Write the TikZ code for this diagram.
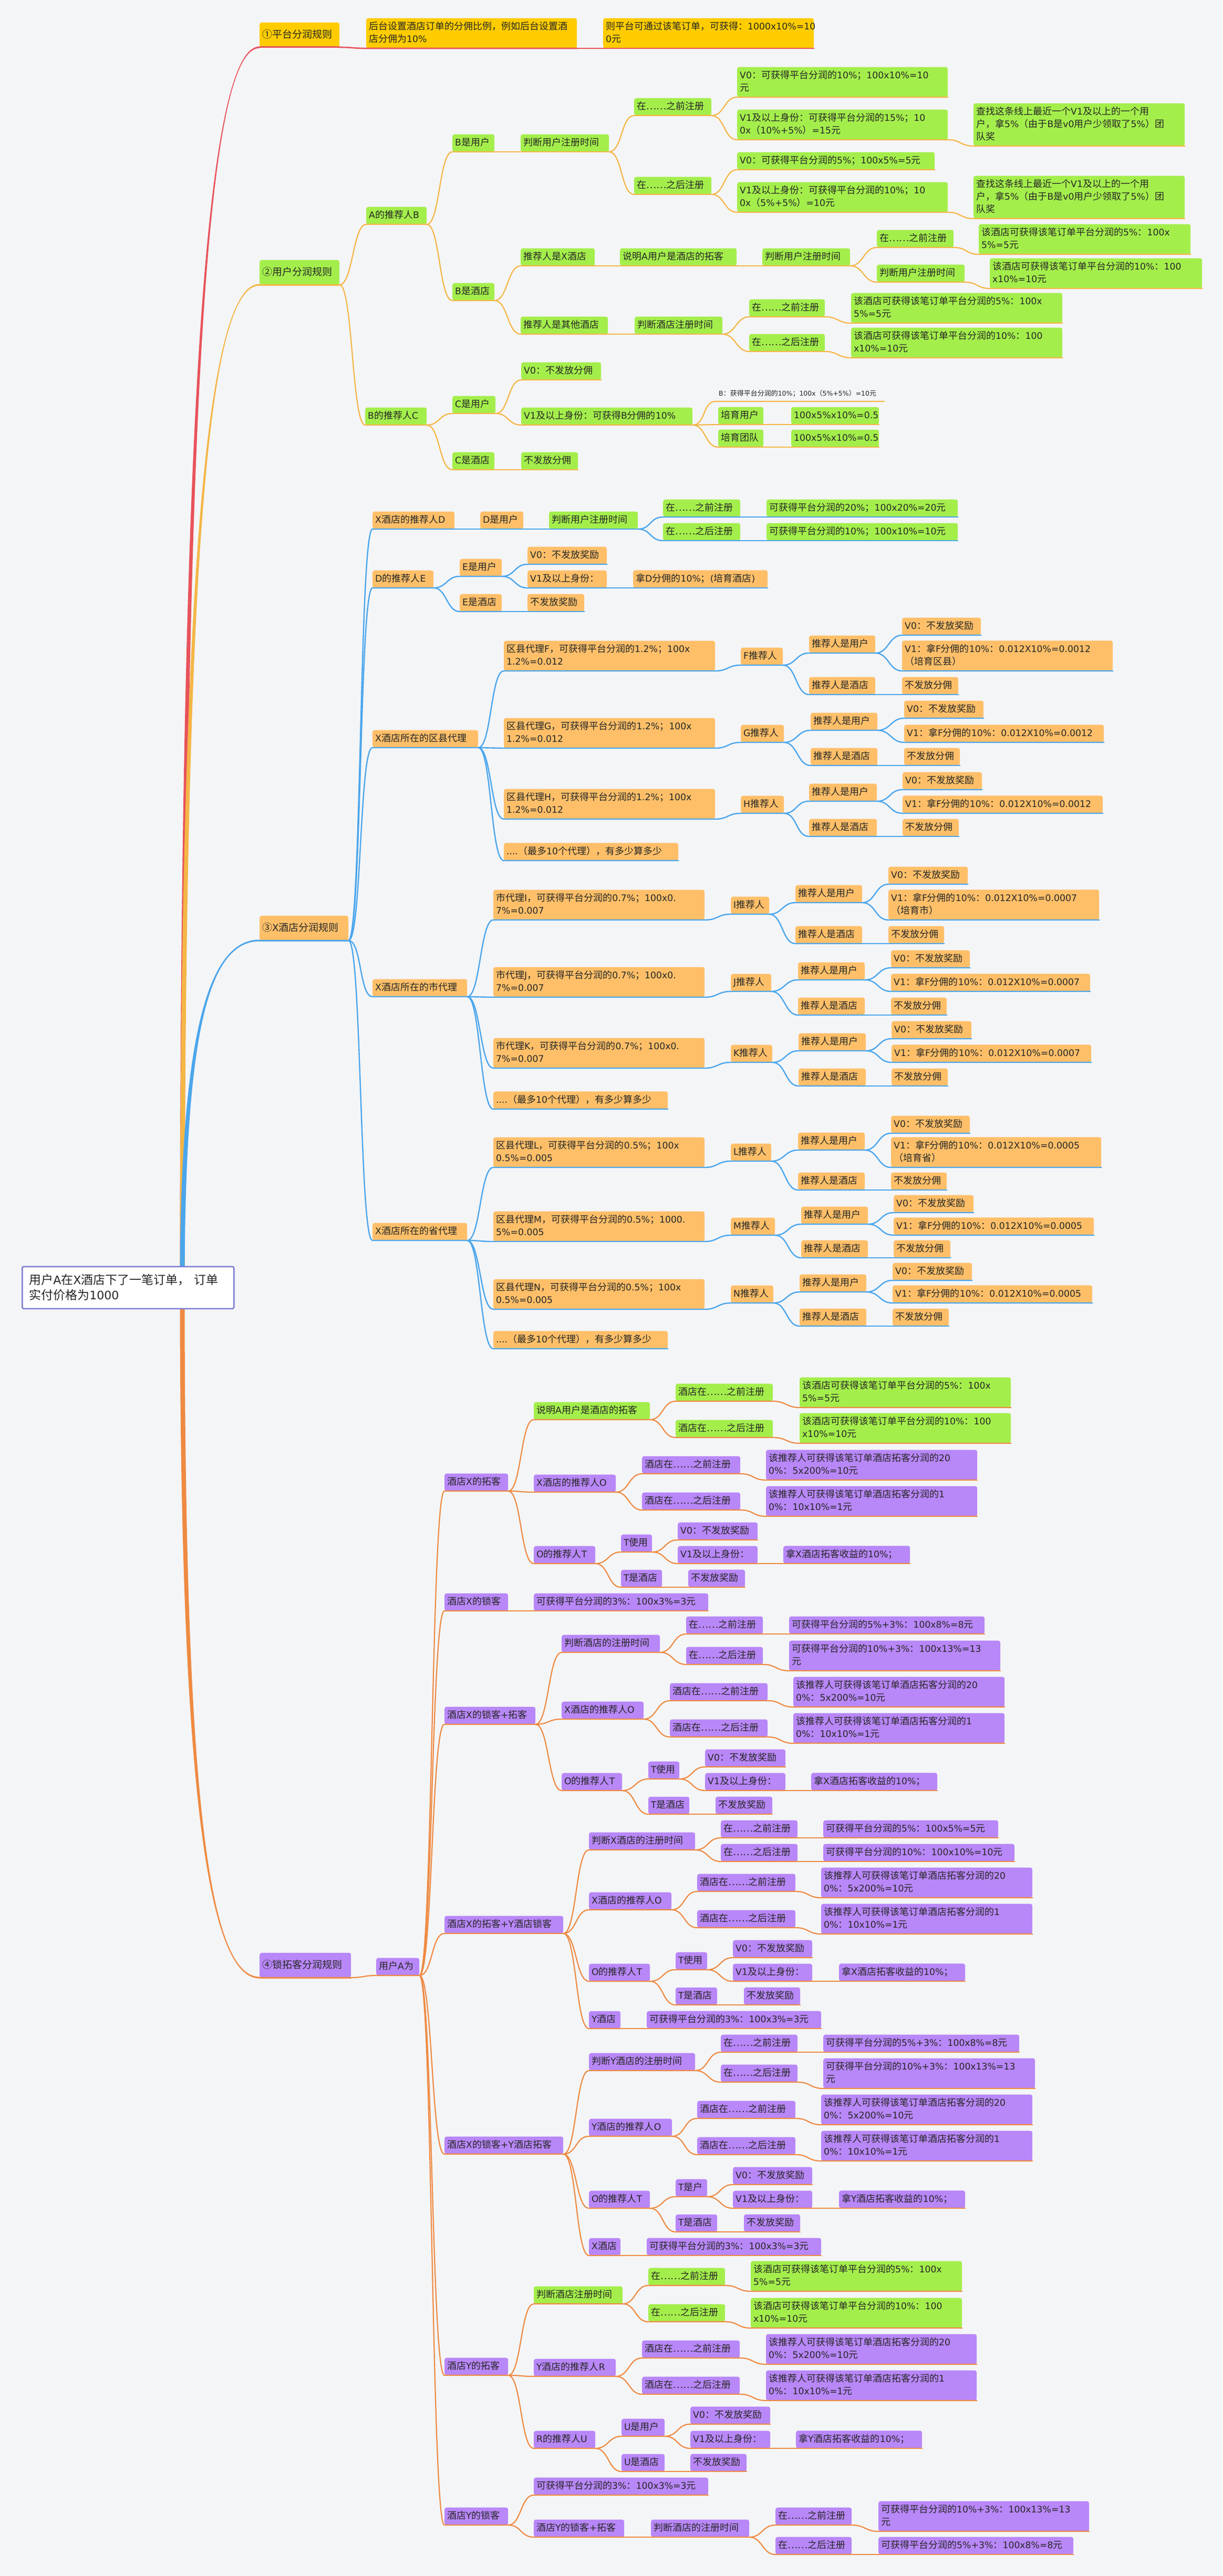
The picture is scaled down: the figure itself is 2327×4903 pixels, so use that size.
\documentclass[tikz,border=0pt]{standalone}
\usepackage{fontspec}
\newfontfamily\cjkf{Noto Sans CJK SC}
\newfontfamily\latinf{DejaVu Sans}[Scale=0.96]
\XeTeXinterchartokenstate=1
\chardef\LatCls=7
\newcount\mycnt
\def\setlat#1#2{\mycnt=#1 \loop\XeTeXcharclass\mycnt=\LatCls\ifnum\mycnt<#2 \advance\mycnt by 1 \repeat}
\setlat{`0}{`9}\setlat{`A}{`Z}\setlat{`a}{`z}
\XeTeXcharclass`\%=\LatCls
\XeTeXcharclass`\.=\LatCls
\XeTeXcharclass`\+=\LatCls
\XeTeXcharclass`\==\LatCls
\XeTeXcharclass`\(=\LatCls
\XeTeXcharclass`\)=\LatCls
\XeTeXinterchartoks 0 \LatCls={\latinf}
\XeTeXinterchartoks 1 \LatCls={\latinf}
\XeTeXinterchartoks 2 \LatCls={\latinf}
\XeTeXinterchartoks 3 \LatCls={\latinf}
\XeTeXinterchartoks 4095 \LatCls={\latinf}
\XeTeXinterchartoks \LatCls 0={\cjkf}
\XeTeXinterchartoks \LatCls 1={\cjkf}
\XeTeXinterchartoks \LatCls 2={\cjkf}
\XeTeXinterchartoks \LatCls 3={\cjkf}
\XeTeXinterchartoks 4095 0={\cjkf}
\XeTeXinterchartoks 4095 1={\cjkf}
\XeTeXinterchartoks 4095 2={\cjkf}
\XeTeXinterchartoks 4095 3={\cjkf}
\usetikzlibrary{calc}
\pgfdeclarelayer{background}
\pgfsetlayers{background,main}
\definecolor{bgc}{HTML}{F4F5F7}
\definecolor{txt}{HTML}{262626}
\definecolor{ylw}{HTML}{FFCC00}
\definecolor{grn}{HTML}{A4EE4C}
\definecolor{org}{HTML}{FFBF69}
\definecolor{pur}{HTML}{B887F8}
\definecolor{redl}{HTML}{E8535B}
\definecolor{ylwl}{HTML}{F4B646}
\definecolor{bluel}{HTML}{4BA6EC}
\definecolor{orgl}{HTML}{EE8A42}
\definecolor{rootb}{HTML}{7C7BD3}
\newcommand\mystrut{\rule[-4pt]{0pt}{19pt}}
\newcommand\nl{\\\mystrut}
\newcommand\nd[6]{\pgfmathsetmacro\tw{#5-10}\node[#1,text width=\tw pt] (#2) at (#3,#4) {\mystrut#6};}
\newcommand\cn[3]{\foreach \ch in {#3}{\draw[#1] (#2.south east) .. controls ($(#2.south east)+(25,0)$) and ($(\ch.south west)+(-25,0)$) .. (\ch.south west) -- (\ch.south east);}}
\newcommand\taper[3]{\fill[#1] let \p1=(rc), \p2=(#2.south west) in (\x1-4.5pt,\y1) .. controls (\x1-4.5pt,{\y1+0.7*(\y2-\y1)}) and ({\x1+0.3*(\x2-\x1)},{\y2+(#3pt)}) .. (\x2,{\y2+(#3pt)}) -- (\x2,{\y2-(#3pt)}) .. controls ({\x1+0.3*(\x2-\x1)},{\y2-(#3pt)}) and (\x1+4.5pt,{\y1+0.7*(\y2-\y1)}) .. (\x1+4.5pt,\y1) -- cycle;}
\newcommand\txC{该酒店可获得该笔订单平台分润的5\%：100x\nl 5\%=5元}
\newcommand\txD{该酒店可获得该笔订单平台分润的10\%：100\nl x10\%=10元}
\newcommand\txA{该推荐人可获得该笔订单酒店拓客分润的20\nl 0\%：5x200\%=10元}
\newcommand\txB{该推荐人可获得该笔订单酒店拓客分润的1\nl 0\%：10x10\%=1元}
\newcommand\txF{查找这条线上最近一个V1及以上的一个用\nl 户，拿5\%（由于B是v0用户少领取了5\%）团\nl 队奖}
\newcommand\txV{V0：不发放奖励}
\newcommand\txU{推荐人是用户}
\newcommand\txH{推荐人是酒店}
\newcommand\txN{不发放分佣}
\newcommand\txK{....（最多10个代理），有多少算多少}
\newcommand\txQ{可获得平台分润的3\%：100x3\%=3元}
\tikzset{
 nbase/.style={anchor=south west, rounded corners=4pt, inner xsep=5pt, inner ysep=7pt, minimum height=33pt, align=left, text=txt, font=\cjkf\fontsize{18}{24}\selectfont},
 gr/.style={nbase, fill=grn},
 yl/.style={nbase, fill=ylw},
 og/.style={nbase, fill=org},
 pu/.style={nbase, fill=pur},
 lvone/.style={minimum height=47pt, font=\cjkf\fontsize{19}{24}\selectfont},
 lbl/.style={anchor=south west, inner xsep=6pt, inner ysep=2pt, minimum height=30pt, text width=309pt, align=left, text=txt, font=\cjkf\fontsize{13}{16}\selectfont},
 rootst/.style={anchor=south west, draw=rootb, line width=2.5pt, fill=white, rounded corners=3pt, minimum width=403pt, minimum height=80pt, text width=377pt, align=left, inner xsep=12pt, text=txt, font=\cjkf\fontsize{23}{29}\selectfont},
 lr/.style={draw=redl, line width=2.6pt, line cap=round},
 ly/.style={draw=ylwl, line width=2.2pt, line cap=round},
 lb/.style={draw=bluel, line width=2.4pt, line cap=round},
 lo/.style={draw=orgl, line width=2.2pt, line cap=round},
}
\begin{document}
\begin{tikzpicture}[x=1pt,y=-1pt]
\begin{pgfonlayer}{background}
\fill[bgc] (0,0) rectangle (2327,4903);
\end{pgfonlayer}
\useasboundingbox (0,0) rectangle (2327,4903);
% root
\node[rootst] (root) at (41,2492) {用户A在X酒店下了一笔订单， 订单\\实付价格为1000};
\coordinate (rc) at (347,2452);
% ===== branch 1
\nd{yl,lvone}{L1a}{494}{90}{152}{①平台分润规则}
\nd{yl}{a1}{697}{92}{401}{后台设置酒店订单的分佣比例，例如后台设置酒\nl 店分佣为10\%}
\nd{yl}{a2}{1148}{92}{401}{则平台可通过该笔订单，可获得：1000x10\%=10\nl 0元}
% ===== branch 2
\nd{gr,lvone}{L1b}{494}{542}{152}{②用户分润规则}
\nd{gr}{b1}{697}{427}{115}{A的推荐人B}
\nd{gr}{b2}{861}{289}{80}{B是用户}
\nd{gr}{b3}{991}{289}{168}{判断用户注册时间}
\nd{gr}{b4}{1207}{220}{147}{在……之前注册}
\nd{gr}{b5}{1403}{185}{401}{V0：可获得平台分润的10\%；100x10\%=10\nl 元}
\nd{gr}{b6}{1403}{266}{401}{V1及以上身份：可获得平台分润的15\%；10\nl 0x（10\%+5\%）=15元}
\nd{gr}{b7}{1853}{278}{402}{\txF}
\nd{gr}{b8}{1207}{370}{147}{在……之后注册}
\nd{gr}{b9}{1403}{323}{376}{V0：可获得平台分润的5\%；100x5\%=5元}
\nd{gr}{b10}{1403}{404}{401}{V1及以上身份：可获得平台分润的10\%；10\nl 0x（5\%+5\%）=10元}
\nd{gr}{b11}{1853}{416}{402}{\txF}
\nd{gr}{b12}{861}{572}{80}{B是酒店}
\nd{gr}{b13}{991}{506}{141}{推荐人是X酒店}
\nd{gr}{b14}{1180}{506}{222}{说明A用户是酒店的拓客}
\nd{gr}{b15}{1451}{506}{167}{判断用户注册时间}
\nd{gr}{b16}{1669}{471}{146}{在……之前注册}
\nd{gr}{b17}{1863}{484}{403}{\txC}
\nd{gr}{b18}{1669}{537}{167}{判断用户注册时间}
\nd{gr}{b19}{1884}{549}{404}{\txD}
\nd{gr}{b20}{991}{636}{166}{推荐人是其他酒店}
\nd{gr}{b21}{1208}{636}{167}{判断酒店注册时间}
\nd{gr}{b22}{1426}{603}{144}{在……之前注册}
\nd{gr}{b23}{1620}{615}{402}{\txC}
\nd{gr}{b24}{1426}{669}{144}{在……之后注册}
\nd{gr}{b25}{1620}{681}{402}{\txD}
\nd{gr}{b26}{695}{809}{117}{B的推荐人C}
\nd{gr}{b27}{861}{787}{82}{C是用户}
\nd{gr}{b28}{992}{723}{152}{V0：不发放分佣}
\nd{gr}{b29}{992}{809}{326}{V1及以上身份：可获得B分佣的10\%}
\node[lbl] (b30) at (1362,764) {B：获得平台分润的10\%；100x（5\%+5\%）=10元};
\nd{gr}{b31}{1367}{808}{86}{培育用户}
\nd{gr}{b32}{1506}{808}{167}{100x5\%x10\%=0.5}
\nd{gr}{b33}{1367}{851}{86}{培育团队}
\nd{gr}{b34}{1506}{851}{167}{100x5\%x10\%=0.5}
\nd{gr}{b35}{861}{894}{80}{C是酒店}
\nd{gr}{b36}{992}{894}{108}{不发放分佣}
% ===== branch 3
\nd{og,lvone}{L1c}{494}{1790}{169}{③X酒店分润规则}
\nd{og}{c1}{709}{1007}{156}{X酒店的推荐人D}
\nd{og}{c2}{914}{1007}{82}{D是用户}
\nd{gr}{c3}{1045}{1007}{169}{判断用户注册时间}
\nd{gr}{c4}{1262}{984}{147}{在……之前注册}
\nd{gr}{c5}{1459}{984}{364}{可获得平台分润的20\%；100x20\%=20元}
\nd{gr}{c6}{1262}{1029}{147}{在……之后注册}
\nd{gr}{c7}{1459}{1029}{364}{可获得平台分润的10\%；100x10\%=10元}
\nd{og}{c8}{709}{1119}{116}{D的推荐人E}
\nd{og}{c9}{875}{1097}{80}{E是用户}
\nd{og}{c10}{1004}{1074}{151}{\txV}
\nd{og}{c11}{1004}{1119}{151}{V1及以上身份：}
\nd{og}{c12}{1205}{1119}{256}{拿D分佣的10\%；(培育酒店)}
\nd{og}{c13}{875}{1164}{80}{E是酒店}
\nd{og}{c14}{1004}{1164}{108}{不发放奖励}
\nd{og}{c15}{709}{1423}{201}{X酒店所在的区县代理}
\nd{og}{c16}{959}{1277}{402}{区县代理F，可获得平台分润的1.2\%；100x\nl 1.2\%=0.012}
\nd{og}{c17}{1410}{1266}{80}{F推荐人}
\nd{og}{c18}{1540}{1243}{126}{\txU}
\nd{og}{c19}{1717}{1209}{150}{\txV}
\nd{og}{c20}{1717}{1277}{401}{V1：拿F分佣的10\%：0.012X10\%=0.0012\nl （培育区县）}
\nd{og}{c21}{1540}{1322}{126}{\txH}
\nd{og}{c22}{1717}{1322}{107}{\txN}
\nd{og}{c23}{959}{1424}{402}{区县代理G，可获得平台分润的1.2\%；100x\nl 1.2\%=0.012}
\nd{og}{c24}{1410}{1413}{82}{G推荐人}
\nd{og}{c25}{1543}{1390}{127}{\txU}
\nd{og}{c26}{1721}{1367}{151}{\txV}
\nd{og}{c27}{1721}{1413}{380}{V1：拿F分佣的10\%：0.012X10\%=0.0012}
\nd{og}{c28}{1543}{1457}{127}{\txH}
\nd{og}{c29}{1721}{1457}{106}{\txN}
\nd{og}{c30}{959}{1559}{402}{区县代理H，可获得平台分润的1.2\%；100x\nl 1.2\%=0.012}
\nd{og}{c31}{1410}{1548}{82}{H推荐人}
\nd{og}{c32}{1540}{1525}{129}{\txU}
\nd{og}{c33}{1718}{1503}{151}{\txV}
\nd{og}{c34}{1718}{1548}{381}{V1：拿F分佣的10\%：0.012X10\%=0.0012}
\nd{og}{c35}{1540}{1592}{129}{\txH}
\nd{og}{c36}{1718}{1592}{107}{\txN}
\nd{og}{c37}{959}{1638}{332}{\txK}
\nd{og}{c38}{709}{1897}{180}{X酒店所在的市代理}
\nd{og}{c39}{939}{1751}{402}{市代理I，可获得平台分润的0.7\%；100x0.\nl 7\%=0.007}
\nd{og}{c40}{1391}{1740}{73}{I推荐人}
\nd{og}{c41}{1514}{1718}{127}{\txU}
\nd{og}{c42}{1691}{1683}{151}{\txV}
\nd{og}{c43}{1691}{1751}{401}{V1：拿F分佣的10\%：0.012X10\%=0.0007\nl （培育市）}
\nd{og}{c44}{1514}{1796}{127}{\txH}
\nd{og}{c45}{1691}{1796}{106}{\txN}
\nd{og}{c46}{939}{1898}{402}{市代理J，可获得平台分润的0.7\%；100x0.\nl 7\%=0.007}
\nd{og}{c47}{1391}{1887}{77}{J推荐人}
\nd{og}{c48}{1519}{1865}{127}{\txU}
\nd{og}{c49}{1696}{1842}{150}{\txV}
\nd{og}{c50}{1696}{1887}{379}{V1：拿F分佣的10\%：0.012X10\%=0.0007}
\nd{og}{c51}{1519}{1932}{127}{\txH}
\nd{og}{c52}{1696}{1932}{106}{\txN}
\nd{og}{c53}{939}{2033}{402}{市代理K，可获得平台分润的0.7\%；100x0.\nl 7\%=0.007}
\nd{og}{c54}{1391}{2022}{79}{K推荐人}
\nd{og}{c55}{1520}{2000}{128}{\txU}
\nd{og}{c56}{1697}{1977}{152}{\txV}
\nd{og}{c57}{1697}{2022}{380}{V1：拿F分佣的10\%：0.012X10\%=0.0007}
\nd{og}{c58}{1520}{2067}{128}{\txH}
\nd{og}{c59}{1697}{2067}{107}{\txN}
\nd{og}{c60}{939}{2111}{332}{\txK}
\nd{og}{c61}{709}{2361}{180}{X酒店所在的省代理}
\nd{og}{c62}{939}{2222}{402}{区县代理L，可获得平台分润的0.5\%；100x\nl 0.5\%=0.005}
\nd{og}{c63}{1391}{2210}{77}{L推荐人}
\nd{og}{c64}{1519}{2189}{127}{\txU}
\nd{og}{c65}{1696}{2157}{150}{\txV}
\nd{og}{c66}{1696}{2222}{400}{V1：拿F分佣的10\%：0.012X10\%=0.0005\nl （培育省）}
\nd{og}{c67}{1519}{2265}{127}{\txH}
\nd{og}{c68}{1696}{2265}{106}{\txN}
\nd{og}{c69}{939}{2363}{402}{区县代理M，可获得平台分润的0.5\%；1000.\nl 5\%=0.005}
\nd{og}{c70}{1391}{2351}{84}{M推荐人}
\nd{og}{c71}{1525}{2330}{127}{\txU}
\nd{og}{c72}{1701}{2308}{152}{\txV}
\nd{og}{c73}{1701}{2351}{381}{V1：拿F分佣的10\%：0.012X10\%=0.0005}
\nd{og}{c74}{1525}{2394}{127}{\txH}
\nd{og}{c75}{1701}{2394}{108}{\txN}
\nd{og}{c76}{939}{2492}{402}{区县代理N，可获得平台分润的0.5\%；100x\nl 0.5\%=0.005}
\nd{og}{c77}{1391}{2480}{81}{N推荐人}
\nd{og}{c78}{1522}{2459}{127}{\txU}
\nd{og}{c79}{1699}{2437}{151}{\txV}
\nd{og}{c80}{1699}{2480}{380}{V1：拿F分佣的10\%：0.012X10\%=0.0005}
\nd{og}{c81}{1522}{2524}{127}{\txH}
\nd{og}{c82}{1699}{2524}{107}{\txN}
\nd{og}{c83}{939}{2567}{332}{\txK}
% ===== branch 4
\nd{pu,lvone}{L1d}{494}{3764}{174}{④锁拓客分润规则}
\nd{pu}{d0}{716}{3760}{82}{用户A为}
\nd{pu}{d1}{846}{2838}{121}{酒店X的拓客}
\nd{gr}{d2}{1016}{2702}{221}{说明A用户是酒店的拓客}
\nd{gr}{d3}{1286}{2667}{185}{酒店在……之前注册}
\nd{gr}{d4}{1522}{2679}{402}{\txC}
\nd{gr}{d5}{1286}{2736}{185}{酒店在……之后注册}
\nd{gr}{d6}{1522}{2747}{402}{\txD}
\nd{pu}{d7}{1016}{2840}{156}{X酒店的推荐人O}
\nd{pu}{d8}{1222}{2805}{187}{酒店在……之前注册}
\nd{pu}{d9}{1458}{2817}{402}{\txA}
\nd{pu}{d10}{1222}{2874}{187}{酒店在……之后注册}
\nd{pu}{d11}{1458}{2886}{402}{\txB}
\nd{pu}{d12}{1016}{2976}{117}{O的推荐人T}
\nd{pu}{d13}{1182}{2954}{59}{T使用}
\nd{pu}{d14}{1290}{2931}{152}{\txV}
\nd{pu}{d15}{1290}{2976}{152}{V1及以上身份：}
\nd{pu}{d16}{1491}{2976}{241}{拿X酒店拓客收益的10\%；}
\nd{pu}{d17}{1182}{3021}{78}{T是酒店}
\nd{pu}{d18}{1310}{3021}{108}{不发放奖励}
\nd{pu}{d19}{846}{3066}{121}{酒店X的锁客}
\nd{pu}{d20}{1016}{3066}{332}{\txQ}
\nd{pu}{d21}{846}{3282}{173}{酒店X的锁客+拓客}
\nd{pu}{d22}{1069}{3145}{187}{判断酒店的注册时间}
\nd{pu}{d23}{1306}{3110}{146}{在……之前注册}
\nd{pu}{d24}{1502}{3110}{372}{可获得平台分润的5\%+3\%：100x8\%=8元}
\nd{pu}{d25}{1306}{3168}{146}{在……之后注册}
\nd{pu}{d26}{1502}{3180}{402}{可获得平台分润的10\%+3\%：100x13\%=13\nl 元}
\nd{pu}{d27}{1069}{3272}{156}{X酒店的推荐人O}
\nd{pu}{d28}{1275}{3237}{186}{酒店在……之前注册}
\nd{pu}{d29}{1510}{3249}{402}{\txA}
\nd{pu}{d30}{1275}{3306}{186}{酒店在……之后注册}
\nd{pu}{d31}{1510}{3318}{402}{\txB}
\nd{pu}{d32}{1069}{3408}{115}{O的推荐人T}
\nd{pu}{d33}{1234}{3386}{59}{T使用}
\nd{pu}{d34}{1342}{3363}{153}{\txV}
\nd{pu}{d35}{1342}{3408}{153}{V1及以上身份：}
\nd{pu}{d36}{1544}{3408}{240}{拿X酒店拓客收益的10\%；}
\nd{pu}{d37}{1234}{3453}{78}{T是酒店}
\nd{pu}{d38}{1362}{3453}{108}{不发放奖励}
\nd{pu}{d39}{846}{3680}{226}{酒店X的拓客+Y酒店锁客}
\nd{pu}{d40}{1121}{3521}{202}{判断X酒店的注册时间}
\nd{pu}{d41}{1372}{3498}{146}{在……之前注册}
\nd{pu}{d42}{1567}{3498}{333}{可获得平台分润的5\%：100x5\%=5元}
\nd{pu}{d43}{1372}{3543}{146}{在……之后注册}
\nd{pu}{d44}{1567}{3543}{364}{可获得平台分润的10\%：100x10\%=10元}
\nd{pu}{d45}{1121}{3635}{157}{X酒店的推荐人O}
\nd{pu}{d46}{1327}{3600}{187}{酒店在……之前注册}
\nd{pu}{d47}{1563}{3612}{402}{\txA}
\nd{pu}{d48}{1327}{3669}{187}{酒店在……之后注册}
\nd{pu}{d49}{1563}{3681}{402}{\txB}
\nd{pu}{d50}{1121}{3771}{116}{O的推荐人T}
\nd{pu}{d51}{1286}{3749}{60}{T使用}
\nd{pu}{d52}{1395}{3726}{151}{\txV}
\nd{pu}{d53}{1395}{3771}{151}{V1及以上身份：}
\nd{pu}{d54}{1597}{3771}{240}{拿X酒店拓客收益的10\%；}
\nd{pu}{d55}{1286}{3816}{79}{T是酒店}
\nd{pu}{d56}{1416}{3816}{107}{不发放奖励}
\nd{pu}{d57}{1121}{3861}{60}{Y酒店}
\nd{pu}{d58}{1231}{3861}{332}{\txQ}
\nd{pu}{d59}{846}{4100}{226}{酒店X的锁客+Y酒店拓客}
\nd{pu}{d60}{1121}{3941}{202}{判断Y酒店的注册时间}
\nd{pu}{d61}{1372}{3906}{146}{在……之前注册}
\nd{pu}{d62}{1567}{3906}{373}{可获得平台分润的5\%+3\%：100x8\%=8元}
\nd{pu}{d63}{1372}{3963}{146}{在……之后注册}
\nd{pu}{d64}{1567}{3975}{403}{可获得平台分润的10\%+3\%：100x13\%=13\nl 元}
\nd{pu}{d65}{1121}{4066}{158}{Y酒店的推荐人O}
\nd{pu}{d66}{1327}{4032}{187}{酒店在……之前注册}
\nd{pu}{d67}{1563}{4044}{402}{\txA}
\nd{pu}{d68}{1327}{4101}{187}{酒店在……之后注册}
\nd{pu}{d69}{1563}{4113}{402}{\txB}
\nd{pu}{d70}{1121}{4203}{116}{O的推荐人T}
\nd{pu}{d71}{1286}{4181}{60}{T是户}
\nd{pu}{d72}{1395}{4158}{151}{\txV}
\nd{pu}{d73}{1395}{4203}{151}{V1及以上身份：}
\nd{pu}{d74}{1597}{4203}{240}{拿Y酒店拓客收益的10\%；}
\nd{pu}{d75}{1286}{4248}{79}{T是酒店}
\nd{pu}{d76}{1416}{4248}{107}{不发放奖励}
\nd{pu}{d77}{1121}{4293}{60}{X酒店}
\nd{pu}{d78}{1231}{4293}{332}{\txQ}
\nd{pu}{d79}{846}{4521}{121}{酒店Y的拓客}
\nd{gr}{d80}{1016}{4385}{169}{判断酒店注册时间}
\nd{gr}{d81}{1234}{4350}{146}{在……之前注册}
\nd{gr}{d82}{1429}{4361}{402}{\txC}
\nd{gr}{d83}{1234}{4419}{146}{在……之后注册}
\nd{gr}{d84}{1429}{4431}{402}{\txD}
\nd{pu}{d85}{1016}{4523}{156}{Y酒店的推荐人R}
\nd{pu}{d86}{1222}{4488}{186}{酒店在……之前注册}
\nd{pu}{d87}{1458}{4500}{401}{\txA}
\nd{pu}{d88}{1222}{4557}{186}{酒店在……之后注册}
\nd{pu}{d89}{1458}{4569}{401}{\txB}
\nd{pu}{d90}{1016}{4660}{117}{R的推荐人U}
\nd{pu}{d91}{1183}{4637}{82}{U是用户}
\nd{pu}{d92}{1314}{4614}{152}{\txV}
\nd{pu}{d93}{1314}{4660}{152}{V1及以上身份：}
\nd{pu}{d94}{1515}{4660}{240}{拿Y酒店拓客收益的10\%；}
\nd{pu}{d95}{1183}{4704}{82}{U是酒店}
\nd{pu}{d96}{1314}{4704}{107}{不发放奖励}
\nd{pu}{d97}{846}{4806}{121}{酒店Y的锁客}
\nd{pu}{d98}{1016}{4749}{332}{\txQ}
\nd{pu}{d99}{1016}{4829}{172}{酒店Y的锁客+拓客}
\nd{pu}{d100}{1239}{4829}{187}{判断酒店的注册时间}
\nd{pu}{d101}{1476}{4806}{145}{在……之前注册}
\nd{pu}{d102}{1672}{4818}{401}{可获得平台分润的10\%+3\%：100x13\%=13\nl 元}
\nd{pu}{d103}{1476}{4862}{145}{在……之后注册}
\nd{pu}{d104}{1672}{4862}{371}{可获得平台分润的5\%+3\%：100x8\%=8元}
% ===== root curves
\begin{pgfonlayer}{background}
\taper{redl}{L1a}{1.6}
\taper{ylwl}{L1b}{1.6}
\taper{bluel}{L1c}{1.6}
\taper{orgl}{L1d}{-1.6}
\end{pgfonlayer}
\draw[lr,line width=3pt] (L1a.south west) -- (L1a.south east);
\draw[ly,line width=3pt] (L1b.south west) -- (L1b.south east);
\draw[lb,line width=3pt] (L1c.south west) -- (L1c.south east);
\draw[lo,line width=3pt] (L1d.south west) -- (L1d.south east);
% ===== connectors branch 1
\cn{lr}{L1a}{a1}
\cn{lr}{a1}{a2}
% ===== connectors branch 2
\cn{ly}{L1b}{b1,b26}
\cn{ly}{b1}{b2,b12}
\cn{ly}{b2}{b3}
\cn{ly}{b3}{b4,b8}
\cn{ly}{b4}{b5,b6}
\cn{ly}{b6}{b7}
\cn{ly}{b8}{b9,b10}
\cn{ly}{b10}{b11}
\cn{ly}{b12}{b13,b20}
\cn{ly}{b13}{b14}
\cn{ly}{b14}{b15}
\cn{ly}{b15}{b16,b18}
\cn{ly}{b16}{b17}
\cn{ly}{b18}{b19}
\cn{ly}{b20}{b21}
\cn{ly}{b21}{b22,b24}
\cn{ly}{b22}{b23}
\cn{ly}{b24}{b25}
\cn{ly}{b26}{b27,b35}
\cn{ly}{b27}{b28,b29}
\cn{ly}{b29}{b30,b31,b33}
\cn{ly}{b31}{b32}
\cn{ly}{b33}{b34}
\cn{ly}{b35}{b36}
% ===== connectors branch 3
\cn{lb}{L1c}{c1,c8,c15,c38,c61}
\cn{lb}{c1}{c2}
\cn{lb}{c2}{c3}
\cn{lb}{c3}{c4,c6}
\cn{lb}{c4}{c5}
\cn{lb}{c6}{c7}
\cn{lb}{c8}{c9,c13}
\cn{lb}{c9}{c10,c11}
\cn{lb}{c11}{c12}
\cn{lb}{c13}{c14}
\cn{lb}{c15}{c16,c23,c30,c37}
\cn{lb}{c16}{c17}
\cn{lb}{c17}{c18,c21}
\cn{lb}{c18}{c19,c20}
\cn{lb}{c21}{c22}
\cn{lb}{c23}{c24}
\cn{lb}{c24}{c25,c28}
\cn{lb}{c25}{c26,c27}
\cn{lb}{c28}{c29}
\cn{lb}{c30}{c31}
\cn{lb}{c31}{c32,c35}
\cn{lb}{c32}{c33,c34}
\cn{lb}{c35}{c36}
\cn{lb}{c38}{c39,c46,c53,c60}
\cn{lb}{c39}{c40}
\cn{lb}{c40}{c41,c44}
\cn{lb}{c41}{c42,c43}
\cn{lb}{c44}{c45}
\cn{lb}{c46}{c47}
\cn{lb}{c47}{c48,c51}
\cn{lb}{c48}{c49,c50}
\cn{lb}{c51}{c52}
\cn{lb}{c53}{c54}
\cn{lb}{c54}{c55,c58}
\cn{lb}{c55}{c56,c57}
\cn{lb}{c58}{c59}
\cn{lb}{c61}{c62,c69,c76,c83}
\cn{lb}{c62}{c63}
\cn{lb}{c63}{c64,c67}
\cn{lb}{c64}{c65,c66}
\cn{lb}{c67}{c68}
\cn{lb}{c69}{c70}
\cn{lb}{c70}{c71,c74}
\cn{lb}{c71}{c72,c73}
\cn{lb}{c74}{c75}
\cn{lb}{c76}{c77}
\cn{lb}{c77}{c78,c81}
\cn{lb}{c78}{c79,c80}
\cn{lb}{c81}{c82}
% ===== connectors branch 4
\cn{lo}{L1d}{d0}
\cn{lo}{d0}{d1,d19,d21,d39,d59,d79,d97}
\cn{lo}{d1}{d2,d7,d12}
\cn{lo}{d2}{d3,d5}
\cn{lo}{d3}{d4}
\cn{lo}{d5}{d6}
\cn{lo}{d7}{d8,d10}
\cn{lo}{d8}{d9}
\cn{lo}{d10}{d11}
\cn{lo}{d12}{d13,d17}
\cn{lo}{d13}{d14,d15}
\cn{lo}{d15}{d16}
\cn{lo}{d17}{d18}
\cn{lo}{d19}{d20}
\cn{lo}{d21}{d22,d27,d32}
\cn{lo}{d22}{d23,d25}
\cn{lo}{d23}{d24}
\cn{lo}{d25}{d26}
\cn{lo}{d27}{d28,d30}
\cn{lo}{d28}{d29}
\cn{lo}{d30}{d31}
\cn{lo}{d32}{d33,d37}
\cn{lo}{d33}{d34,d35}
\cn{lo}{d35}{d36}
\cn{lo}{d37}{d38}
\cn{lo}{d39}{d40,d45,d50,d57}
\cn{lo}{d40}{d41,d43}
\cn{lo}{d41}{d42}
\cn{lo}{d43}{d44}
\cn{lo}{d45}{d46,d48}
\cn{lo}{d46}{d47}
\cn{lo}{d48}{d49}
\cn{lo}{d50}{d51,d55}
\cn{lo}{d51}{d52,d53}
\cn{lo}{d53}{d54}
\cn{lo}{d55}{d56}
\cn{lo}{d57}{d58}
\cn{lo}{d59}{d60,d65,d70,d77}
\cn{lo}{d60}{d61,d63}
\cn{lo}{d61}{d62}
\cn{lo}{d63}{d64}
\cn{lo}{d65}{d66,d68}
\cn{lo}{d66}{d67}
\cn{lo}{d68}{d69}
\cn{lo}{d70}{d71,d75}
\cn{lo}{d71}{d72,d73}
\cn{lo}{d73}{d74}
\cn{lo}{d75}{d76}
\cn{lo}{d77}{d78}
\cn{lo}{d79}{d80,d85,d90}
\cn{lo}{d80}{d81,d83}
\cn{lo}{d81}{d82}
\cn{lo}{d83}{d84}
\cn{lo}{d85}{d86,d88}
\cn{lo}{d86}{d87}
\cn{lo}{d88}{d89}
\cn{lo}{d90}{d91,d95}
\cn{lo}{d91}{d92,d93}
\cn{lo}{d93}{d94}
\cn{lo}{d95}{d96}
\cn{lo}{d97}{d98,d99}
\cn{lo}{d99}{d100}
\cn{lo}{d100}{d101,d103}
\cn{lo}{d101}{d102}
\cn{lo}{d103}{d104}
\end{tikzpicture}
\end{document}
